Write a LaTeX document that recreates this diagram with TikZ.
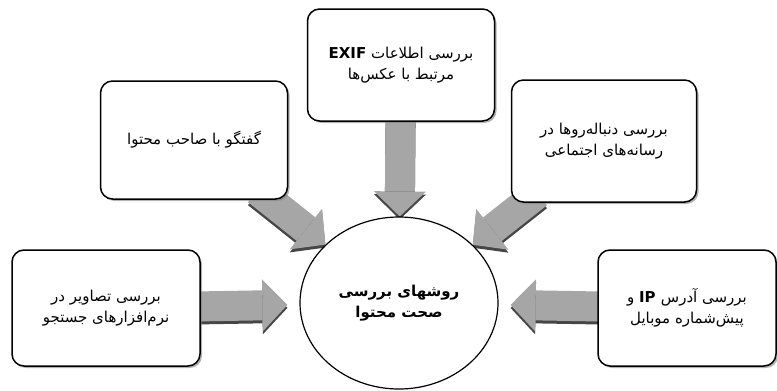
\documentclass[tikz,border=0pt]{standalone}
\usepackage{fontspec}
\usepackage{tikz}
\usetikzlibrary{arrows.meta,shapes.geometric,shadows,backgrounds}
\newfontfamily\fa[Script=Arabic]{DejaVu Sans}
\TeXXeTstate=1
\newcommand{\rtl}[1]{\beginR #1\endR}

\begin{document}
\begin{tikzpicture}[x=1pt, y=-1pt, font=\fa\fontsize{15}{21}\selectfont,
    method/.style={draw, line width=1.5pt, rounded corners=12pt, fill=white,
      align=center, minimum width=187pt, minimum height=118pt,
      drop shadow={shadow xshift=2pt, shadow yshift=-2pt, opacity=0.6}},
    hub/.style={ellipse, draw, line width=1.2pt, fill=white, align=center,
      minimum width=198pt, minimum height=172pt, font=\fa\bfseries\fontsize{15}{21}\selectfont},
    feed/.style={draw=gray!70, line width=30pt, shorten <=-15pt,
      -{Triangle[width=52pt, length=25pt, line width=0pt]}},
    feedshadow/.style={feed, draw=gray!55!black,
      transform canvas={shift={(0pt,-3pt)}}}]
    \useasboundingbox (0,0) rectangle (777,391);
    \node (hub) [hub] at (399,303) {\rtl{روشهای بررسی}\\ \rtl{صحت محتوا}};
    \node (exif) [method, above of=hub, node distance=238pt, xshift=2pt, minimum height=112pt]
      {\rtl{بررسی اطلاعات \textbf{\beginL EXIF\endL}}\\ \rtl{مرتبط با عکس‌ها}};
    \node (talk) [method, above of=hub, node distance=163pt, xshift=-205pt]
      {\rtl{گفتگو با صاحب محتوا}};
    \node (social) [method, above of=hub, node distance=162pt, xshift=205pt, minimum width=185pt, minimum height=122pt]
      {\rtl{بررسی دنباله‌روها در}\\ \rtl{رسانه‌های اجتماعی}};
    \node (search) [method, left of=hub, node distance=293pt, yshift=-5pt, minimum width=188pt, minimum height=116pt]
      {\rtl{بررسی تصاویر در}\\ \rtl{نرم‌افزارهای جستجو}};
    \node (ip) [method, right of=hub, node distance=288pt, yshift=-5pt, minimum width=178pt, minimum height=116pt]
      {\rtl{بررسی آدرس \textbf{\beginL IP\endL} و}\\ \rtl{پیش‌شماره موبایل}};
    % block arrows behind the boxes
    \begin{scope}[on background layer]
      \foreach \src/\gap in {exif/0pt, talk/0pt, social/0pt, search/12pt, ip/12pt} {
        \draw[feedshadow, shorten >=\gap] (\src) -- (hub);
        \draw[feed, shorten >=\gap] (\src) -- (hub);
      }
    \end{scope}
  \end{tikzpicture}
\end{document}
